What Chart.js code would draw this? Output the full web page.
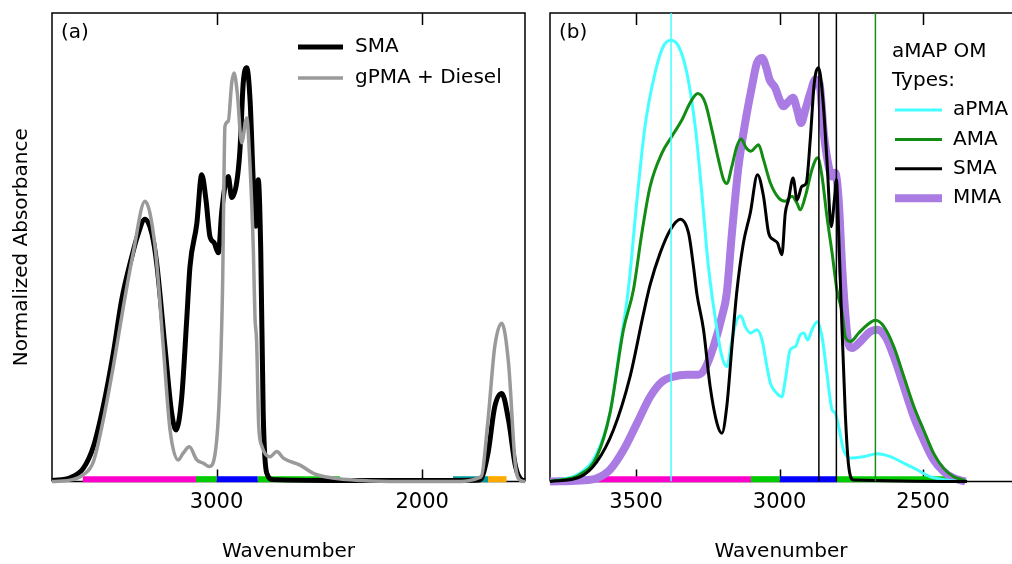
<!DOCTYPE html>
<html>
<head>
<meta charset="utf-8">
<script src="https://cdn.jsdelivr.net/npm/chart.js@4.4.1/dist/chart.umd.min.js"></script>
<style>
  html, body { margin: 0; padding: 0; background: #fff; }
  #quadro { position: relative; width: 1012px; height: 564px; overflow: hidden; }
  #chartA { position: absolute; left: 0; top: 0; }
  #chartB { position: absolute; left: 530px; top: 0; }
</style>
</head>
<body>
<div id="quadro">
  <canvas id="chartA" width="530" height="564"></canvas>
  <canvas id="chartB" width="482" height="564"></canvas>
</div>
<script>
// ---- dados ----
// marcas do eixo x (número de onda)
const ticksA = [3000, 2000];
const ticksB = [3500, 3000, 2500];

// painel (a): SMA
const smaAWn = [3800, 3712, 3648, 3599, 3551, 3502, 3461, 3412, 3385, 3348, 3315, 3291, 3251, 3218, 3197, 3169, 3145, 3129, 3096, 3072,
  3051, 3032, 3012, 2991, 2975, 2959, 2943, 2926, 2902, 2886, 2870, 2853, 2837, 2821, 2808, 2797, 2785, 2773, 2756, 2725,
  2340, 1850, 1720, 1680, 1647, 1613, 1580, 1546, 1513, 1500];
const smaAAbs = [0.002, 0.008, 0.028, 0.074, 0.16, 0.274, 0.388, 0.48, 0.523, 0.56, 0.53, 0.466, 0.288, 0.146, 0.11, 0.181, 0.345, 0.459, 0.55, 0.655,
  0.6, 0.523, 0.51, 0.488, 0.574, 0.63, 0.651, 0.606, 0.638, 0.708, 0.851, 0.883, 0.815, 0.638, 0.545, 0.644, 0.495, 0.146, 0.018, 0.004,
  0.002, 0.002, 0.003, 0.06, 0.16, 0.188, 0.131, 0.032, 0.003, 0.002];

// painel (a): gPMA + Diesel
const dieselAWn = [3800, 3700, 3649, 3599, 3551, 3502, 3453, 3405, 3348, 3299, 3259, 3226, 3186, 3163, 3132, 3096, 3064, 3035, 2999, 2983,
  2970, 2964, 2959, 2943, 2926, 2915, 2899, 2878, 2853, 2837, 2821, 2813, 2805, 2795, 2780, 2740, 2707, 2675, 2594, 2526,
  2443, 2293, 2100, 1850, 1714, 1680, 1647, 1613, 1580, 1546, 1521, 1500];
const dieselAAbs = [0, 0.004, 0.014, 0.042, 0.131, 0.245, 0.373, 0.488, 0.598, 0.502, 0.288, 0.11, 0.046, 0.06, 0.074, 0.046, 0.039, 0.032, 0.089, 0.217,
  0.43, 0.644, 0.758, 0.769, 0.851, 0.872, 0.829, 0.723, 0.776, 0.673, 0.495, 0.35, 0.3, 0.12, 0.076, 0.053, 0.064, 0.05, 0.035, 0.017,
  0.008, 0.002, 0, 0, 0.01, 0.131, 0.288, 0.338, 0.252, 0.032, 0.002, 0];

// painel (b): aPMA
const apmaWn = [3800, 3695, 3637, 3591, 3556, 3527, 3497, 3469, 3434, 3405, 3379, 3352, 3323, 3294, 3271, 3248, 3218, 3201, 3184, 3166,
  3149, 3135, 3120, 3102, 3079, 3061, 3044, 3032, 3009, 2992, 2980, 2963, 2945, 2928, 2916, 2902, 2887, 2869, 2852, 2835,
  2817, 2806, 2794, 2777, 2753, 2707, 2660, 2614, 2567, 2521, 2474, 2428, 2370, 2347];
const apmaAbs = [0, 0.018, 0.06, 0.146, 0.288, 0.41, 0.6, 0.758, 0.872, 0.929, 0.942, 0.929, 0.872, 0.758, 0.616, 0.459, 0.324, 0.267, 0.245, 0.302,
  0.345, 0.354, 0.331, 0.317, 0.324, 0.302, 0.245, 0.21, 0.188, 0.181, 0.217, 0.281, 0.288, 0.313, 0.317, 0.302, 0.324, 0.341, 0.309, 0.231,
  0.153, 0.146, 0.117, 0.067, 0.05, 0.053, 0.059, 0.053, 0.039, 0.025, 0.01, 0.004, 0, 0];

// painel (b): AMA
const amaWn = [3800, 3695, 3637, 3591, 3544, 3509, 3480, 3451, 3410, 3375, 3340, 3312, 3285, 3259, 3236, 3213, 3195, 3184, 3166, 3149,
  3134, 3116, 3100, 3073, 3056, 3032, 3003, 2980, 2957, 2939, 2928, 2910, 2887, 2867, 2852, 2835, 2817, 2800, 2782, 2771,
  2753, 2724, 2695, 2666, 2637, 2602, 2567, 2532, 2498, 2463, 2428, 2393, 2358, 2347];
const amaAbs = [0, 0.015, 0.053, 0.146, 0.324, 0.41, 0.53, 0.63, 0.701, 0.737, 0.772, 0.808, 0.828, 0.808, 0.751, 0.687, 0.644, 0.636, 0.673, 0.715,
  0.731, 0.712, 0.705, 0.719, 0.687, 0.637, 0.605, 0.598, 0.609, 0.594, 0.58, 0.609, 0.666, 0.691, 0.651, 0.566, 0.488, 0.409, 0.36, 0.309,
  0.299, 0.317, 0.334, 0.344, 0.331, 0.288, 0.224, 0.16, 0.11, 0.06, 0.028, 0.01, 0.003, 0];

// painel (b): SMA
const smaBWn = [3800, 3695, 3637, 3579, 3521, 3474, 3451, 3416, 3381, 3346, 3317, 3300, 3288, 3265, 3242, 3218, 3201, 3184, 3166, 3149,
  3126, 3102, 3077, 3056, 3038, 3021, 3007, 2992, 2980, 2969, 2953, 2939, 2922, 2907, 2893, 2879, 2864, 2849, 2835, 2820,
  2809, 2802, 2794, 2786, 2771, 2759, 2742, 2347];
const smaBAbs = [0, 0.01, 0.042, 0.11, 0.224, 0.359, 0.42, 0.488, 0.537, 0.56, 0.53, 0.459, 0.4, 0.324, 0.203, 0.124, 0.103, 0.16, 0.288, 0.405,
  0.509, 0.573, 0.655, 0.609, 0.53, 0.516, 0.509, 0.484, 0.573, 0.601, 0.648, 0.601, 0.63, 0.637, 0.73, 0.851, 0.883, 0.815, 0.687, 0.544,
  0.601, 0.644, 0.53, 0.388, 0.146, 0.032, 0.003, 0];

// painel (b): MMA
const mmaWn = [3800, 3695, 3637, 3591, 3544, 3497, 3451, 3410, 3370, 3323, 3283, 3259, 3230, 3201, 3184, 3166, 3143, 3120, 3096, 3079,
  3061, 3046, 3035, 3015, 3000, 2986, 2969, 2953, 2939, 2925, 2910, 2893, 2875, 2861, 2846, 2829, 2817, 2806, 2794, 2782,
  2771, 2759, 2747, 2718, 2684, 2660, 2631, 2602, 2567, 2532, 2498, 2463, 2428, 2393, 2352];
const mmaAbs = [0, 0.002, 0.007, 0.025, 0.067, 0.124, 0.181, 0.213, 0.224, 0.228, 0.228, 0.242, 0.288, 0.352, 0.402, 0.53, 0.673, 0.765, 0.844, 0.893,
  0.904, 0.883, 0.858, 0.84, 0.815, 0.801, 0.811, 0.819, 0.794, 0.765, 0.794, 0.829, 0.858, 0.85, 0.744, 0.673, 0.651, 0.659, 0.6, 0.459,
  0.359, 0.292, 0.285, 0.299, 0.32, 0.324, 0.309, 0.267, 0.203, 0.138, 0.089, 0.046, 0.021, 0.007, 0];

// faixas de grupos funcionais (início, fim)
const faixasAInicio = [3650, 3100, 3000, 2800, 1850, 1680];
const faixasAFim = [3100, 3000, 2800, 2400, 1680, 1590];
const faixasBInicio = [3650, 3100, 3000, 2800];
const faixasBFim = [3100, 3000, 2800, 2400];

// linhas verticais de referência no painel (b)
const linhasRefWn = [3378, 2863, 2802, 2666];

// ---- estilos ----
const coresFaixas = ["#ff00cc", "#00cc00", "#0000ff", "#00cc00", "#009a9a", "#ffaa00"];
const coresLinhasRef = ["#44ffff", "#000000", "#000000", "#1a8c1a"];
const nivelFaixa = 0.005;
const fonte = { family: '"DejaVu Sans"', size: 20 };
const fonteTicks = { family: '"DejaVu Sans"', size: 21 };

Chart.defaults.font.family = fonte.family;
Chart.defaults.color = "#000";

// Função para juntar número de onda e absorbância em pontos
function pontos(wn, abs) {
  return wn.map(function (w, i) {
    return { x: w, y: abs[i] };
  });
}

function serie(rotulo, wn, abs, cor, largura, ordem, legenda) {
  return {
    label: rotulo,
    data: pontos(wn, abs),
    borderColor: cor,
    borderWidth: largura,
    pointRadius: 0,
    cubicInterpolationMode: "monotone",
    borderJoinStyle: "round",
    clip: false,
    order: ordem,
    legenda: legenda,
  };
}

function faixas(inicio, fim) {
  return inicio.map(function (ini, i) {
    return {
      data: [{ x: ini, y: nivelFaixa }, { x: fim[i], y: nivelFaixa }],
      borderColor: coresFaixas[i],
      borderWidth: 6,
      borderCapStyle: "butt",
      pointRadius: 0,
      clip: false,
      order: 10,
    };
  });
}

// Moldura com marcas para dentro (desenhada antes das curvas)
const moldura = {
  id: "moldura",
  beforeDatasetsDraw(chart, args, op) {
    const ctx = chart.ctx;
    const a = chart.chartArea;
    const x = chart.scales.x;
    ctx.save();
    ctx.strokeStyle = "#000";
    ctx.lineWidth = 1.5;
    ctx.beginPath();
    ctx.moveTo(a.left, a.bottom);
    ctx.lineTo(a.left, a.top);
    ctx.lineTo(a.right + (op.fechar ? 0 : 2), a.top);
    if (op.fechar) ctx.lineTo(a.right, a.bottom);
    ctx.moveTo(a.left, a.bottom);
    ctx.lineTo(a.right + (op.fechar ? 0 : 2), a.bottom);
    op.marcas.forEach(function (v) {
      const px = Math.round(x.getPixelForValue(v)) + 0.5;
      ctx.moveTo(px, a.top);
      ctx.lineTo(px, a.top + 12);
      ctx.moveTo(px, a.bottom);
      ctx.lineTo(px, a.bottom - 12);
    });
    ctx.stroke();
    ctx.restore();
  },
  afterDatasetsDraw(chart, args, op) {
    const ctx = chart.ctx;
    const a = chart.chartArea;
    const lg = op.legenda;
    ctx.save();
    ctx.fillStyle = "#000";
    ctx.font = fonte.size + "px " + fonte.family;
    ctx.textBaseline = "middle";
    ctx.fillText(op.rotulo, a.left + 9, 33);
    // cabeçalho da legenda
    (lg.cabecalho || []).forEach(function (t, i) {
      ctx.fillText(t, lg.xCab, lg.yCab + i * lg.passoCab);
    });
    // itens da legenda, na ordem indicada em cada série
    const itens = chart.data.datasets.filter(function (d) {
      return d.legenda !== undefined;
    }).sort(function (p, q) {
      return p.legenda - q.legenda;
    });
    itens.forEach(function (d, i) {
      const y = lg.y0 + i * lg.passo;
      ctx.strokeStyle = d.borderColor;
      ctx.lineWidth = d.borderWidth;
      ctx.lineCap = "butt";
      ctx.beginPath();
      ctx.moveTo(lg.x0, y);
      ctx.lineTo(lg.x1, y);
      ctx.stroke();
      ctx.fillText(d.label, lg.xTexto, y);
    });
    ctx.restore();
  },
};

function eixoX(min, max, marcas) {
  return {
    type: "linear",
    reverse: true,
    min: min,
    max: max,
    afterBuildTicks: function (s) {
      s.ticks = marcas.map(function (v) {
        return { value: v };
      });
    },
    afterFit: function (s) {
      s.height = 82.5;
    },
    grid: { display: false, drawTicks: false },
    border: { display: false },
    ticks: {
      font: fonteTicks,
      color: "#000",
      padding: 8,
      autoSkip: false,
      maxRotation: 0,
      callback: function (v) {
        return String(v); // sem separador de milhar
      },
    },
    title: { display: true, text: "Wavenumber", font: fonte, color: "#000", padding: { top: 0, bottom: 0 } },
  };
}

const comuns = {
  responsive: false,
  animation: false,
  events: [],
  plugins: { legend: { display: false }, tooltip: { enabled: false } },
};

// Painel (a)
new Chart(document.getElementById("chartA"), {
  type: "line",
  data: {
    datasets: faixas(faixasAInicio, faixasAFim).concat([
      serie("SMA", smaAWn, smaAAbs, "#000000", 5, 3, 0),
      serie("gPMA + Diesel", dieselAWn, dieselAAbs, "#9a9a9a", 3.5, 2, 1),
    ]),
  },
  options: Object.assign({}, comuns, {
    layout: { padding: { top: 13, right: 5, left: 0, bottom: 0 } },
    scales: {
      x: eixoX(1500, 3800, ticksA),
      y: {
        min: 0,
        max: 1,
        afterFit: function (s) {
          s.width = 52;
        },
        grid: { display: false, drawTicks: false },
        border: { display: false },
        ticks: { display: false },
        title: { display: true, text: "Normalized Absorbance", font: fonte, color: "#000", padding: { top: 10, bottom: 0 } },
      },
    },
    plugins: Object.assign({}, comuns.plugins, {
      moldura: {
        fechar: true,
        marcas: ticksA,
        rotulo: "(a)",
        legenda: { x0: 298, x1: 343, xTexto: 355, y0: 47, passo: 31 },
      },
    }),
  }),
  plugins: [moldura],
});

// Painel (b)
const refs = linhasRefWn.map(function (w, i) {
  return {
    data: [{ x: w, y: 0 }, { x: w, y: 1 }],
    borderColor: coresLinhasRef[i],
    borderWidth: 1.5,
    pointRadius: 0,
    order: 1,
  };
});

new Chart(document.getElementById("chartB"), {
  type: "line",
  data: {
    datasets: faixas(faixasBInicio, faixasBFim).concat([
      serie("aPMA", apmaWn, apmaAbs, "#44ffff", 3, 5, 0),
      serie("AMA", amaWn, amaAbs, "#128c12", 3, 4, 1),
      serie("SMA", smaBWn, smaBAbs, "#000000", 3, 3, 2),
      serie("MMA", mmaWn, mmaAbs, "#a97be3", 8, 6, 3),
    ]).concat(refs),
  },
  options: Object.assign({}, comuns, {
    layout: { padding: { top: 13, right: 0, left: 20, bottom: 0 } },
    scales: {
      x: eixoX(2190, 3800, ticksB),
      y: { display: false, min: 0, max: 1 },
    },
    plugins: Object.assign({}, comuns.plugins, {
      moldura: {
        fechar: false,
        marcas: ticksB,
        rotulo: "(b)",
        legenda: {
          cabecalho: ["aMAP OM", "Types:"],
          xCab: 362, yCab: 52, passoCab: 29,
          x0: 365, x1: 412, xTexto: 423, y0: 110, passo: 29.4,
        },
      },
    }),
  }),
  plugins: [moldura],
});
</script>
</body>
</html>
